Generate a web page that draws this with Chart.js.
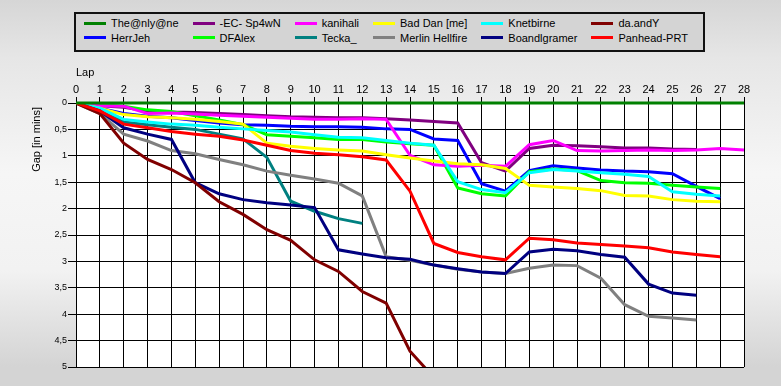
<!DOCTYPE html>
<html>
<head>
<meta charset="utf-8">
<script src="https://cdn.jsdelivr.net/npm/chart.js@4.4.1/dist/chart.umd.min.js"></script>
<style>
  html, body { margin: 0; padding: 0; }
  body {
    width: 781px; height: 386px; overflow: hidden; position: relative;
    background: linear-gradient(to bottom, #d6d6d6 0%, #e6e6e6 15%, #f6f6f6 45%, #f2f2f2 70%, #d4d4d4 95%);
    font-family: "Liberation Sans", Arial, sans-serif;
  }
  #wrap { position: absolute; left: 0; top: 0; width: 781px; height: 386px; }
  #legend {
    position: absolute; left: 74px; top: 12px; width: 631px; height: 40px;
    box-sizing: border-box; border: 2px solid #111; background: #d4d4d4;
    padding: 2px 0 0 8px;
    display: grid; grid-auto-flow: column; grid-template-rows: 14.5px 14.5px;
    grid-template-columns: repeat(6, auto); justify-content: start; column-gap: 14px;
    font-size: 11px; color: #000;
  }
  .item { display: flex; align-items: center; white-space: nowrap; }
  .sw { width: 22px; height: 3px; margin-right: 5px; }
</style>
</head>
<body>
<div id="wrap"><canvas id="gapChart" width="781" height="386"></canvas></div>
<div id="legend"></div>
<script>
// laps 0..28
const laps = ['0','1','2','3','4','5','6','7','8','9','10','11','12','13','14','15','16','17','18','19','20','21','22','23','24','25','26','27','28'];

// gap to leader in minutes, one array per driver
const theOnlyOne   = [0,0,0,0,0,0,0,0,0,0,0,0,0,0,0,0,0,0,0,0,0,0,0,0,0,0,0,0,0];
const herrJeh      = [0,0.1,0.2,0.25,0.28,0.33,0.38,0.41,0.42,0.44,0.45,0.45,0.46,0.49,0.5,0.68,0.71,1.53,1.67,1.28,1.19,1.23,1.27,1.29,1.3,1.34,1.58,1.81];
const ecSp4wn      = [0,0.05,0.08,0.15,0.17,0.18,0.2,0.22,0.24,0.26,0.27,0.28,0.28,0.3,0.32,0.35,0.38,1.13,1.29,0.86,0.8,0.81,0.83,0.85,0.85,0.87,0.88];
const dfAlex       = [0,0.03,0.06,0.13,0.16,0.24,0.32,0.41,0.6,0.63,0.66,0.69,0.69,0.74,0.77,0.8,1.61,1.72,1.76,1.3,1.25,1.28,1.47,1.51,1.52,1.56,1.59,1.62];
const kanihali     = [0,0.05,0.06,0.2,0.19,0.21,0.23,0.25,0.27,0.29,0.31,0.31,0.3,0.31,0.99,1.17,1.2,1.18,1.2,0.79,0.71,0.9,0.91,0.9,0.89,0.9,0.89,0.86,0.89];
const tecka        = [0,0.12,0.36,0.41,0.46,0.5,0.59,0.68,1.03,1.86,2.05,2.19,2.28];
const badDan       = [0,0.1,0.22,0.26,0.28,0.31,0.35,0.4,0.76,0.82,0.86,0.89,0.91,0.98,1.04,1.1,1.15,1.17,1.24,1.56,1.59,1.62,1.66,1.75,1.76,1.83,1.86,1.87];
const merlin       = [0,0.2,0.59,0.72,0.9,0.96,1.07,1.17,1.29,1.37,1.44,1.52,1.76,2.91,2.98,3.07,3.15,3.2,3.23,3.13,3.07,3.08,3.32,3.82,4.04,4.07,4.11];
const knetbirne    = [0,0.1,0.31,0.36,0.4,0.42,0.46,0.49,0.52,0.55,0.6,0.65,0.66,0.71,0.76,0.8,1.49,1.64,1.7,1.32,1.26,1.29,1.32,1.35,1.39,1.68,1.73,1.76];
const boandlgramer = [0,0.15,0.47,0.59,0.69,1.51,1.72,1.83,1.89,1.93,1.98,2.78,2.86,2.93,2.96,3.07,3.14,3.2,3.23,2.82,2.77,2.8,2.87,2.92,3.43,3.6,3.64];
const daAndY       = [0,0.2,0.76,1.07,1.26,1.51,1.87,2.11,2.4,2.6,2.97,3.19,3.57,3.79,4.7,5.2];
const panhead      = [0,0.15,0.4,0.47,0.54,0.59,0.63,0.7,0.8,0.9,0.95,0.98,1.02,1.08,1.67,2.66,2.83,2.91,2.97,2.56,2.59,2.65,2.68,2.71,2.74,2.82,2.87,2.91];

const drivers = ['The@nly@ne','HerrJeh','-EC- Sp4wN','DFAlex','kanihali','Tecka_','Bad Dan [me]','Merlin Hellfire','Knetbirne','Boandlgramer','da.andY','Panhead-PRT'];
const series  = [theOnlyOne, herrJeh, ecSp4wn, dfAlex, kanihali, tecka, badDan, merlin, knetbirne, boandlgramer, daAndY, panhead];
const colores = ['#008000','#0000ff','#800080','#00ff00','#ff00ff','#008080','#ffff00','#808080','#00ffff','#000080','#800000','#ff0000'];

renderizar_leyenda();

function renderizar_leyenda(){
    const box = document.getElementById('legend');
    drivers.forEach((name, i) => {
        const it = document.createElement('div');
        it.className = 'item';
        it.innerHTML = '<span class="sw" style="background:' + colores[i] + '"></span><span>' + name + '</span>';
        box.appendChild(it);
    });
}

// white plot area + the y axis title up near the top, like the original
const plotBg = {
    id: 'plotBg',
    beforeDraw(chart) {
        const {ctx, chartArea} = chart;
        ctx.save();
        ctx.fillStyle = '#ffffff';
        ctx.fillRect(chartArea.left, chartArea.top, chartArea.right - chartArea.left, chartArea.bottom - chartArea.top);
        ctx.restore();
    },
    afterDraw(chart) {
        const {ctx, chartArea} = chart;
        ctx.save();
        ctx.translate(37, chartArea.top + 4);
        ctx.rotate(-Math.PI / 2);
        ctx.font = '11px "Liberation Sans"';
        ctx.fillStyle = '#000';
        ctx.textAlign = 'right';
        ctx.textBaseline = 'middle';
        ctx.fillText('Gap [in mins]', 0, 0);
        ctx.restore();
    }
};

const datasets = series.map((d, i) => ({
    label: drivers[i],
    data: d,
    borderColor: colores[i],
    backgroundColor: colores[i],
    borderWidth: 3,
    pointRadius: 0,
    tension: 0,
    fill: false,
    // leader's line sits on the top edge, let it show full width
    clip: i === 0 ? { left: 0, top: 3, right: 2, bottom: 0 } : 0,
    order: i === 0 ? -1 : series.length - i
}));

new Chart(document.getElementById('gapChart').getContext('2d'), {
    type: 'line',
    data: { labels: laps, datasets: datasets },
    options: {
        responsive: false,
        animation: false,
        layout: { padding: { top: 66, left: 0, right: 37, bottom: 19 } },
        plugins: { legend: { display: false }, tooltip: { enabled: false } },
        scales: {
            x: {
                position: 'top',
                offset: false,
                afterFit: (scale) => { scale.height = 37; },
                grid: { color: '#000', lineWidth: 1, tickLength: 6, tickColor: '#000' },
                border: { color: '#000', width: 1 },
                ticks: { color: '#000', font: { size: 11, family: 'Liberation Sans' }, padding: 0, maxRotation: 0, autoSkip: false },
                title: { display: true, text: 'Lap', align: 'start', color: '#000', padding: 0, font: { size: 11, family: 'Liberation Sans' } }
            },
            y: {
                reverse: true,
                min: 0,
                max: 5,
                afterFit: (scale) => { scale.width = 76; },
                grid: { color: '#000', lineWidth: 1, tickLength: 8, tickColor: '#000' },
                border: { color: '#000', width: 1 },
                ticks: {
                    stepSize: 0.5,
                    color: '#000',
                    padding: 1,
                    font: { size: 9, family: 'Liberation Sans' },
                    callback: (v) => String(v).replace('.', ',')
                }
            }
        }
    },
    plugins: [plotBg]
});
</script>
</body>
</html>
